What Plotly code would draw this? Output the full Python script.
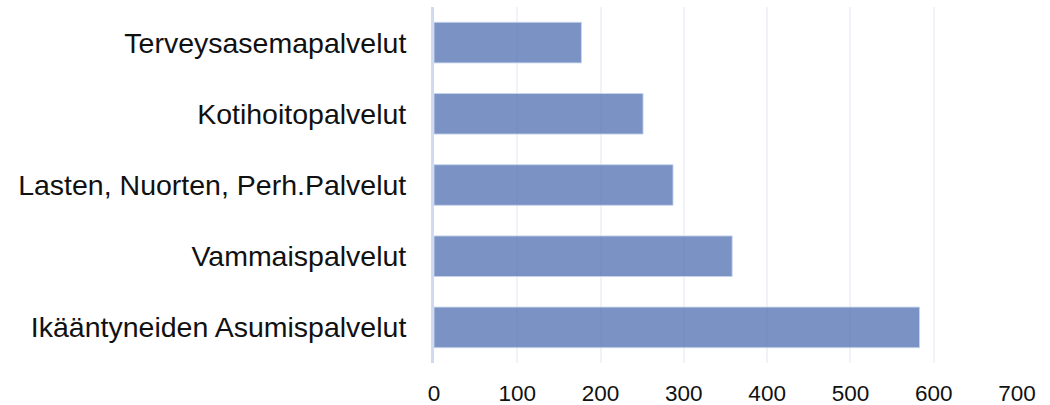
import plotly.graph_objects as go

# Palvelualueet ja niiden arvot
categories = [
    "Ikääntyneiden Asumispalvelut",
    "Vammaispalvelut",
    "Lasten, Nuorten, Perh.Palvelut",
    "Kotihoitopalvelut",
    "Terveysasemapalvelut",
]
values = [583, 358, 287, 251, 177]
x_ticks = [0, 100, 200, 300, 400, 500, 600, 700]

fig = go.Figure(
    go.Bar(
        x=values,
        y=categories,
        orientation="h",
        marker=dict(
            color="rgba(84,115,180,0.78)",
            line=dict(color="rgba(200,212,236,0.9)", width=1),
        ),
        width=0.57,
    )
)

fig.update_layout(
    width=1050,
    height=405,
    margin=dict(l=434, r=33, t=7, b=42),
    plot_bgcolor="white",
    paper_bgcolor="white",
    showlegend=False,
    font=dict(family="Liberation Sans, Arial, sans-serif", color="#111111"),
)

fig.update_xaxes(
    range=[0, 700],
    tickvals=x_ticks,
    ticktext=[str(v) for v in x_ticks],
    showgrid=True,
    gridcolor="#f2f3f8",
    gridwidth=1.5,
    zeroline=False,
    showline=False,
    ticks="",
    ticklabelstandoff=14,
    tickfont=dict(size=22.5, color="#111111"),
    automargin=False,
)

fig.update_yaxes(
    showgrid=False,
    zeroline=False,
    showline=True,
    linecolor="#cfd9ef",
    linewidth=3,
    ticks="",
    ticklabelstandoff=19,
    tickfont=dict(size=28.5, color="#111111"),
    automargin=False,
)

fig.write_html("out.html")
